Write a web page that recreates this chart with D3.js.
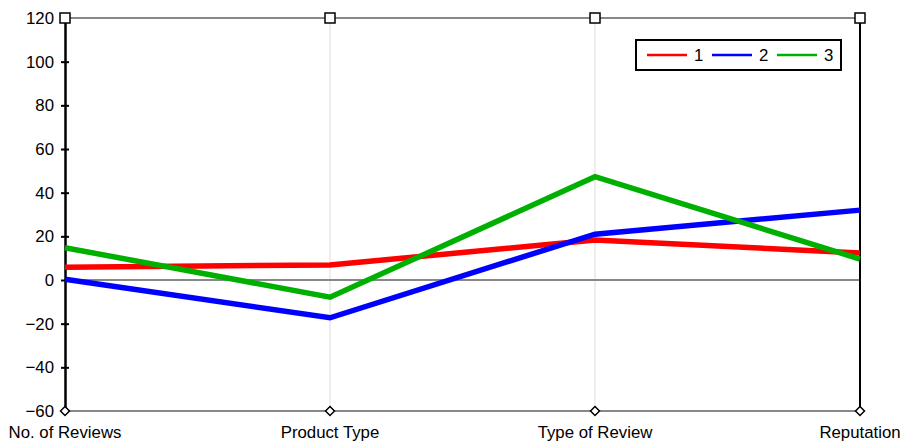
<!DOCTYPE html>
<html><head><meta charset="utf-8">
<script src="https://cdn.jsdelivr.net/npm/d3@7"></script>
<style>body{margin:0;background:#fff;} text{font-family:"Liberation Sans",Arial,sans-serif;}</style>
</head><body><svg id="c" width="901" height="441"></svg>
<script>
const categories = ["No. of Reviews", "Product Type", "Type of Review", "Reputation"];
const series1 = [5.8, 6.9, 18.3, 12.4];
const series2 = [0.3, -17.3, 21, 32];
const series3 = [14.8, -7.9, 47.3, 9.6];
const seriesNames = ["1", "2", "3"];
const seriesColors = ["#ff0000", "#0000ff", "#00b000"];
const yTicks = [120, 100, 80, 60, 40, 20, 0, -20, -40, -60];

const svg = d3.select("#c");
const x = d3.scalePoint().domain(categories).range([65, 860]);
const y = d3.scaleLinear().domain([-60, 120]).range([411, 18]);
const FS = 16.8;

// interior vertical grid lines
svg.append("g").selectAll("line").data(categories.slice(1, -1)).join("line")
  .attr("x1", d => x(d)).attr("x2", d => x(d)).attr("y1", y(120)).attr("y2", y(-60))
  .attr("stroke", "#dddddd").attr("stroke-width", 1);

// top/bottom/zero lines
[[120, 2], [-60, 2], [0, 2]].forEach(([v, w]) => {
  svg.append("line").attr("x1", x(categories[0])).attr("x2", x(categories[3]))
    .attr("y1", y(v)).attr("y2", y(v)).attr("stroke", "#888").attr("stroke-width", w);
});

// right axis
svg.append("line").attr("x1", 860).attr("x2", 860).attr("y1", y(120)).attr("y2", y(-60))
  .attr("stroke", "#000").attr("stroke-width", 2);

// left axis
const yAxis = d3.axisLeft(y).tickValues(yTicks).tickSizeInner(4).tickSizeOuter(0).tickPadding(7)
  .tickFormat(d => d < 0 ? "\u2212" + Math.abs(d) : d);
const ga = svg.append("g").attr("transform", "translate(65,0)").call(yAxis);
ga.select(".domain").attr("stroke", "#000").attr("stroke-width", 2.5);
ga.selectAll(".tick line").attr("x2", 4).attr("x1", -4).attr("stroke", "#000").attr("stroke-width", 2);
ga.selectAll(".tick text").attr("font-size", FS).attr("fill", "#000").attr("x", -11)
  .attr("font-family", "Liberation Sans, Arial, sans-serif");

// category labels
svg.append("g").selectAll("text").data(categories).join("text")
  .attr("x", d => x(d)).attr("y", 438).attr("text-anchor", "middle")
  .attr("font-size", FS).attr("fill", "#000").text(d => d);

// series lines
const data = [series1, series2, series3];
const line = d3.line().x((d, i) => x(categories[i])).y(d => y(d));
svg.append("g").selectAll("path").data(data).join("path")
  .attr("d", line).attr("fill", "none")
  .attr("stroke", (d, i) => seriesColors[i]).attr("stroke-width", 5.5).attr("stroke-linejoin", "miter");

// markers
svg.append("g").selectAll("rect").data(categories).join("rect")
  .attr("x", d => x(d) - 5).attr("y", y(120) - 5).attr("width", 10).attr("height", 10)
  .attr("fill", "#fff").attr("stroke", "#000").attr("stroke-width", 1.5);
svg.append("g").selectAll("path").data(categories).join("path")
  .attr("d", d => `M${x(d)},${y(-60) - 4.5}L${x(d) + 4.5},${y(-60)}L${x(d)},${y(-60) + 4.5}L${x(d) - 4.5},${y(-60)}Z`)
  .attr("fill", "#fff").attr("stroke", "#000").attr("stroke-width", 1.5);

// legend
const lg = svg.append("g");
lg.append("rect").attr("x", 636).attr("y", 40).attr("width", 205).attr("height", 30)
  .attr("fill", "#fff").attr("stroke", "#000").attr("stroke-width", 2);
seriesNames.forEach((n, i) => {
  const x0 = 647 + i * 65;
  lg.append("line").attr("x1", x0).attr("x2", x0 + 40).attr("y1", 55).attr("y2", 55)
    .attr("stroke", seriesColors[i]).attr("stroke-width", 2.5);
  lg.append("text").attr("x", x0 + 47).attr("y", 61).attr("font-size", FS).attr("fill", "#000").text(n);
});
</script></body></html>
